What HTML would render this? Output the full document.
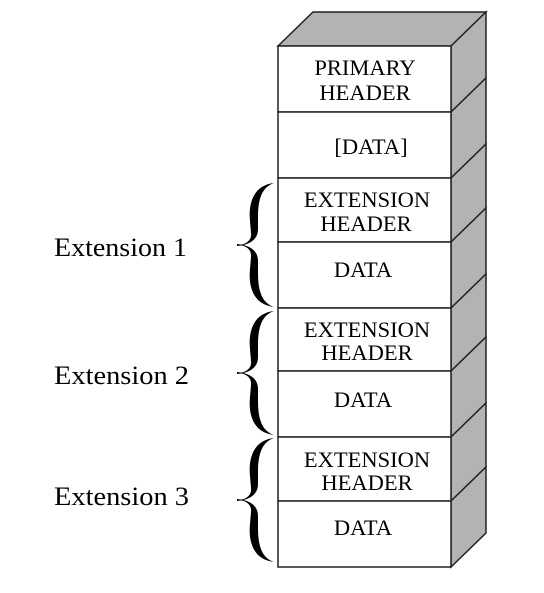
<!DOCTYPE html>
<html><head><meta charset="utf-8"><style>
html,body{margin:0;padding:0;background:#fff;width:544px;height:593px;overflow:hidden}
svg text{font-family:"Liberation Serif",serif;fill:#000}
</style></head><body>
<svg width="544" height="593" viewBox="0 0 544 593" xmlns="http://www.w3.org/2000/svg">
<defs>
<path id="bh" d="M37,0 C18,2 11,18 13,38 L14,50 C15,58 8,62 0,62 L0,63 C12,62 21,57 21,46 L21,34 C21,16 25,4 37,0 Z" fill="#000"/>
</defs>
<polygon points="278,46 313,12 486,12 451,46" fill="#b3b3b3" stroke="#222" stroke-width="1.5"/>
<g fill="#b3b3b3" stroke="#222" stroke-width="1.5">
<polygon points="451,46 486,12 486,78 451,112"/>
<polygon points="451,112 486,78 486,144 451,178"/>
<polygon points="451,178 486,144 486,208 451,242"/>
<polygon points="451,242 486,208 486,274 451,308"/>
<polygon points="451,308 486,274 486,337 451,371"/>
<polygon points="451,371 486,337 486,403 451,437"/>
<polygon points="451,437 486,403 486,467 451,501"/>
<polygon points="451,501 486,467 486,533 451,567"/>
</g>
<g fill="#fff" stroke="#222" stroke-width="1.5">
<rect x="278" y="46" width="173" height="66"/>
<rect x="278" y="112" width="173" height="66"/>
<rect x="278" y="178" width="173" height="64"/>
<rect x="278" y="242" width="173" height="66"/>
<rect x="278" y="308" width="173" height="63"/>
<rect x="278" y="371" width="173" height="66"/>
<rect x="278" y="437" width="173" height="64"/>
<rect x="278" y="501" width="173" height="66"/>
</g>
<g font-size="22.5" text-anchor="middle">
<text x="365" y="75">PRIMARY</text>
<text x="365" y="100">HEADER</text>
<text x="371" y="154">[DATA]</text>
<text x="367" y="207">EXTENSION</text>
<text x="366" y="231">HEADER</text>
<text x="363" y="277">DATA</text>
<text x="367" y="337">EXTENSION</text>
<text x="367" y="360">HEADER</text>
<text x="363" y="407">DATA</text>
<text x="367" y="467">EXTENSION</text>
<text x="367" y="490">HEADER</text>
<text x="363" y="535">DATA</text>
</g>
<g font-size="26">
<text x="54" y="256" textLength="133" lengthAdjust="spacingAndGlyphs">Extension 1</text>
<text x="54" y="384" textLength="135" lengthAdjust="spacingAndGlyphs">Extension 2</text>
<text x="54" y="505" textLength="135" lengthAdjust="spacingAndGlyphs">Extension 3</text>
</g>
<g transform="translate(237,183)"><use href="#bh"/><g transform="translate(0,124) scale(1,-1)"><use href="#bh"/></g></g>
<g transform="translate(237,311)"><use href="#bh"/><g transform="translate(0,124) scale(1,-1)"><use href="#bh"/></g></g>
<g transform="translate(237,438)"><use href="#bh"/><g transform="translate(0,124) scale(1,-1)"><use href="#bh"/></g></g>
</svg>
</body></html>
